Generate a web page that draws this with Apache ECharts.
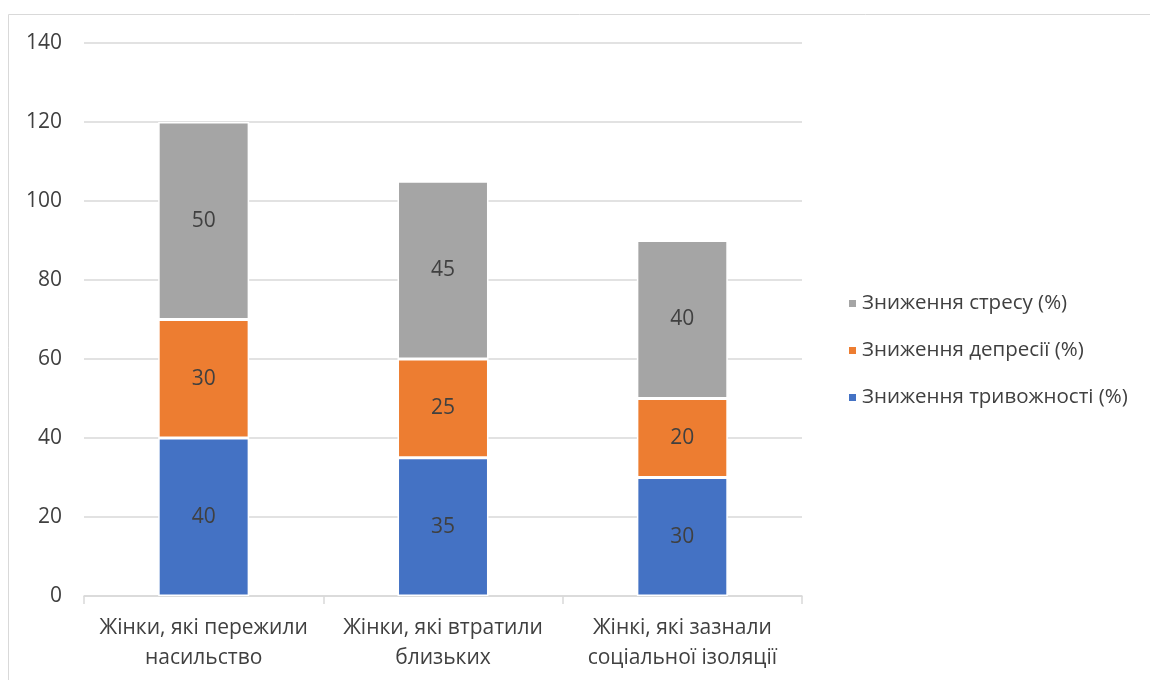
<!DOCTYPE html>
<html>
<head>
<meta charset="utf-8">
<script src="https://cdn.jsdelivr.net/npm/echarts@6/dist/echarts.min.js"></script>
<style>
  html, body { margin: 0; padding: 0; background: #fff; }
  #chart { width: 1150px; height: 680px; }
</style>
</head>
<body>
<div id="chart"></div>
<script>
// дані
var categories = ['Жінки, які пережили\nнасильство', 'Жінки, які втратили\nблизьких', 'Жінкі, які зазнали\nсоціальної ізоляції'];
var anxiety = [40, 35, 30];
var depression = [30, 25, 20];
var stress = [50, 45, 40];
var seriesNames = ['Зниження тривожності (%)', 'Зниження депресії (%)', 'Зниження стресу (%)'];
var colors = ['#4472C4', '#ED7D31', '#A5A5A5'];

var font = '"Open Sans", "Noto Sans", sans-serif';
var myChart = echarts.init(document.getElementById('chart'));

function bar(name, data, color) {
    return {
        name: name,
        type: 'bar',
        stack: 'total',
        data: data,
        barWidth: '38%',
        itemStyle: { color: color, borderColor: '#fff', borderWidth: 1.5 },
        label: {
            show: true,
            position: 'inside',
            color: '#404040',
            fontSize: 21,
            fontFamily: font
        }
    };
}

var option = {
    animation: false,
    color: colors,
    graphic: [{
        type: 'rect',
        shape: { x: 8.5, y: 14.5, width: 1200, height: 700 },
        style: { fill: 'none', stroke: '#d9d9d9', lineWidth: 1 },
        silent: true
    }],
    grid: { left: 84, right: 348, top: 43, bottom: 84 },
    legend: {
        orient: 'vertical',
        left: 842,
        top: 288,
        itemGap: 26,
        itemWidth: 9,
        itemHeight: 9,
        icon: 'rect',
        data: [seriesNames[2], seriesNames[1], seriesNames[0]],
        textStyle: { color: '#404040', fontSize: 20.5, fontFamily: font, padding: [0, 0, 0, 0] }
    },
    xAxis: {
        type: 'category',
        data: categories,
        axisLine: { lineStyle: { color: '#d9d9d9', width: 1.5 } },
        axisTick: { show: true, alignWithLabel: false, length: 8, lineStyle: { color: '#d9d9d9', width: 1.5 } },
        axisLabel: {
            color: '#404040',
            fontSize: 21,
            fontFamily: font,
            lineHeight: 30,
            margin: 17,
            interval: 0
        }
    },
    yAxis: {
        type: 'value',
        min: 0,
        max: 140,
        interval: 20,
        axisLine: { show: false },
        axisTick: { show: false },
        splitLine: { lineStyle: { color: '#d9d9d9', width: 1.5 } },
        axisLabel: {
            color: '#404040',
            fontSize: 21,
            fontFamily: font,
            margin: 22
        }
    },
    series: [
        bar(seriesNames[0], anxiety, colors[0]),
        bar(seriesNames[1], depression, colors[1]),
        bar(seriesNames[2], stress, colors[2])
    ]
};
myChart.setOption(option);
</script>
</body>
</html>
